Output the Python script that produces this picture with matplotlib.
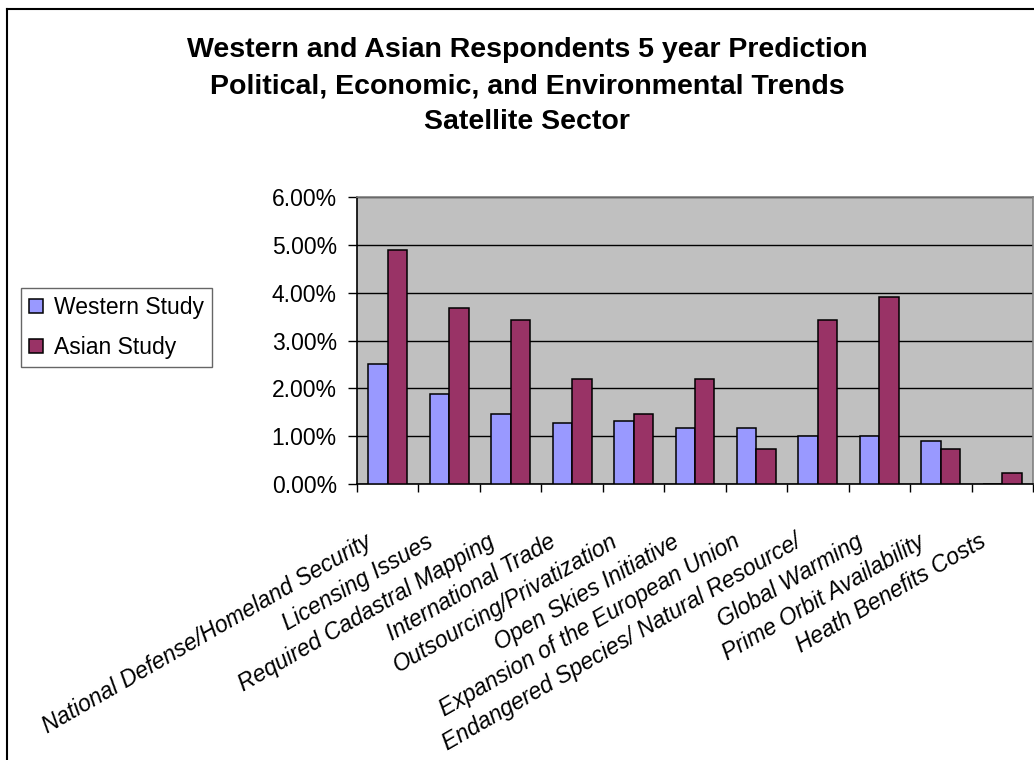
import numpy as np
import matplotlib
matplotlib.use("Agg")
import matplotlib.pyplot as plt
from matplotlib.lines import Line2D
from matplotlib.transforms import ScaledTranslation

plt.rcParams['font.family'] = ['Liberation Sans', 'DejaVu Sans']

# Data
categories = [
    'National Defense/Homeland Security',
    'Licensing Issues',
    'Required Cadastral Mapping',
    'International Trade',
    'Outsourcing/Privatization',
    'Open Skies Initiative',
    'Expansion of the European Union',
    'Endangered Species/ Natural Resource/',
    'Global Warming',
    'Prime Orbit Availability',
    'Heath Benefits Costs',
]
western = [2.50, 1.88, 1.47, 1.27, 1.31, 1.18, 1.18, 1.01, 1.01, 0.90, 0.0]
asian = [4.90, 3.67, 3.43, 2.20, 1.47, 2.20, 0.73, 3.43, 3.91, 0.73, 0.24]
series_names = ['Western Study', 'Asian Study']
colors = ['#9999FF', '#993366']
title = ('Western and Asian Respondents 5 year Prediction\n'
         'Political, Economic, and Environmental Trends\n'
         'Satellite Sector')

W, H = 1034, 760
fig = plt.figure(figsize=(W / 100, H / 100), dpi=100)
ax = fig.add_axes([357 / W, 1 - 484 / H, (1033 - 357) / W, (484 - 197) / H])
ax.set_facecolor('#C0C0C0')

x = np.arange(len(categories))
width = 0.317
ax.bar(x - width / 2, np.array(western) / 100, width, color=colors[0],
       edgecolor='black', linewidth=1.1, label=series_names[0], zorder=3)
ax.bar(x + width / 2, np.array(asian) / 100, width, color=colors[1],
       edgecolor='black', linewidth=1.1, label=series_names[1], zorder=3)

ax.set_xlim(-0.5, len(categories) - 0.5)
ax.set_ylim(0, 0.06)
ax.set_yticks(np.arange(0, 0.061, 0.01))
ax.set_yticklabels(['%.2f%%' % (v * 100) for v in np.arange(0, 0.061, 0.01)])
ax.yaxis.grid(True, color='black', linewidth=1.0, zorder=1)
ax.set_axisbelow(True)

# category boundaries get the tick marks, labels sit in the middle
ax.set_xticks(np.arange(-0.5, len(categories), 1.0))
ax.set_xticklabels([])
ax.set_xticks(x, minor=True)
ax.set_xticklabels(categories, minor=True, rotation=30, ha='right', va='center',
                   rotation_mode='anchor', fontsize=16.5, style='italic')
ax.tick_params(axis='x', which='major', length=6, width=1, color='black', direction='out')
ax.tick_params(axis='x', which='minor', length=0, pad=0)
ax.tick_params(axis='y', length=6.5, width=1, direction='out', labelsize=16.5, pad=8)
for lab in ax.get_xticklabels(minor=True):
    lab.set_transform(lab.get_transform() + ScaledTranslation(-0.18, -0.56, fig.dpi_scale_trans))

for side in ['top', 'right']:
    ax.spines[side].set_color('#808080')
    ax.spines[side].set_linewidth(1.2)
for side in ['left', 'bottom']:
    ax.spines[side].set_color('black')
    ax.spines[side].set_linewidth(1.2)

fig.text(527 / W, 1 - 37 / H, title, ha='center', va='top', fontsize=20.5,
         fontweight='bold', linespacing=1.5)

fig.legend(loc='upper left', bbox_to_anchor=(21 / W, 1 - 288 / H), borderaxespad=0,
           fontsize=16.5, frameon=True, fancybox=False, edgecolor='#404040',
           handlelength=0.6, handleheight=0.6, handletextpad=0.5,
           labelspacing=0.75, borderpad=0.35)

# outer chart border (only left and top visible)
fig.add_artist(Line2D([7 / W, 7 / W], [0, 1 - 9 / H], color='black', linewidth=1.5))
fig.add_artist(Line2D([7 / W, 1], [1 - 9 / H, 1 - 9 / H], color='black', linewidth=1.5))

fig.savefig('out.png', dpi=100)
